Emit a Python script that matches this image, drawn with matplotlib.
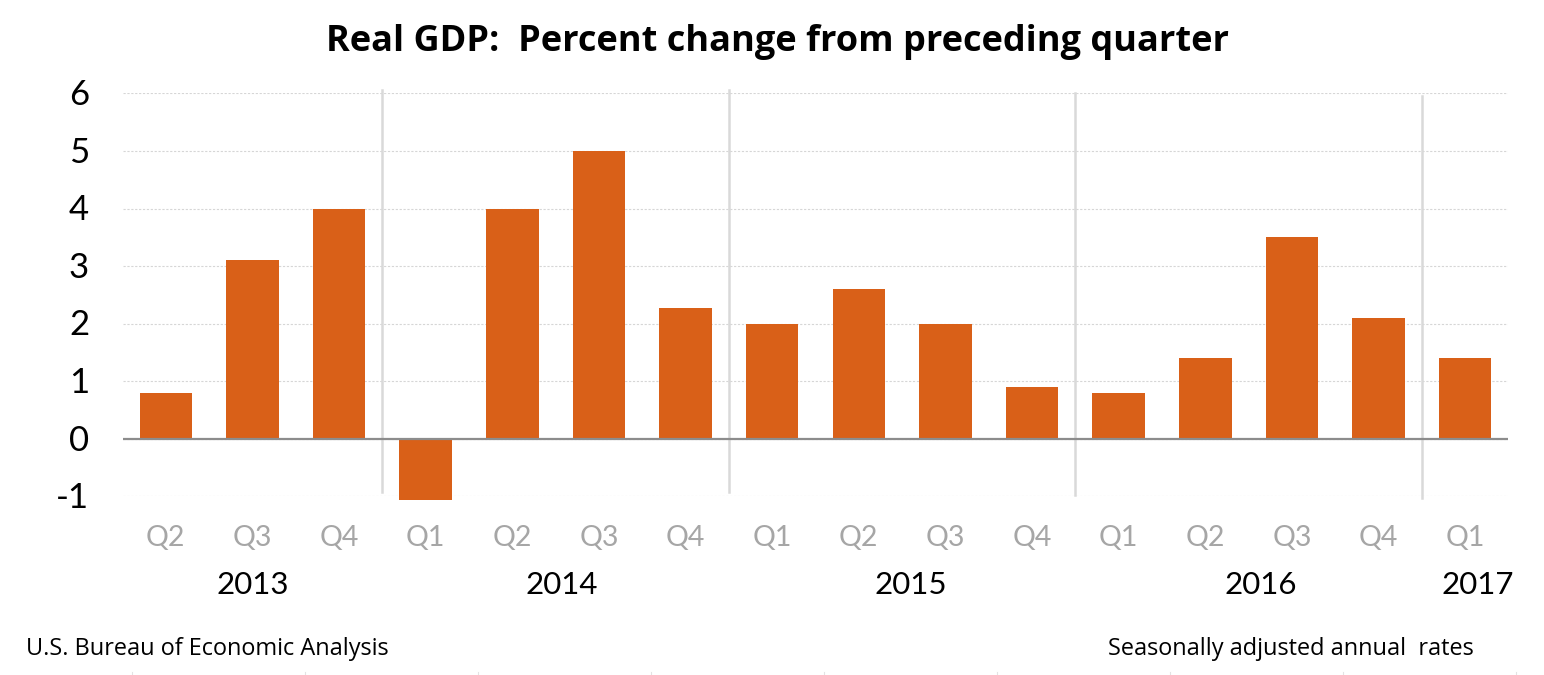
#!/usr/bin/env python3
import matplotlib
matplotlib.use("Agg")
import matplotlib.pyplot as plt
from matplotlib.transforms import ScaledTranslation
import numpy as np

W, H = 1544, 675

quarters = ["Q2", "Q3", "Q4", "Q1", "Q2", "Q3", "Q4", "Q1",
            "Q2", "Q3", "Q4", "Q1", "Q2", "Q3", "Q4", "Q1"]
gdp_change = [0.8, 3.1, 4.0, -1.07, 4.0, 5.0, 2.28, 1.99,
              2.6, 1.99, 0.9, 0.8, 1.4, 3.5, 2.1, 1.4]
y_ticks = [-1, 0, 1, 2, 3, 4, 5, 6]
years = ["2013", "2014", "2015", "2016", "2017"]
year_label_x = [1.0, 4.57, 8.6, 12.64, 15.15]  # in bar units
year_breaks = [2.5, 6.5, 10.5, 14.5]
break_spans = [(-0.93, 6.06), (-0.93, 6.06), (-0.97, 6.0), (-1.03, 5.95)]

BAR = "#D96018"
GRID = "#D6D6D6"
SEP = "#D9D9D9"
QGRAY = "#A6A6A6"
AXIS = "#8C8C8C"

fig = plt.figure(figsize=(W / 100, H / 100), dpi=100, facecolor="white")
ax = fig.add_axes([122.5 / W, 1 - 496.4 / H, (1508 - 122) / W, (496 - 93) / H])

x = np.arange(len(gdp_change))
ax.bar(x, gdp_change, width=0.605, color=BAR, zorder=3, clip_on=False)
ax.set_xlim(-0.5, len(gdp_change) - 0.5)
ax.set_ylim(-1, 6)

ax.set_yticks(y_ticks)
ax.set_yticklabels([str(v) for v in y_ticks], fontfamily="Lato", fontsize=25, color="black")
ax.set_xticks(x)
ax.set_xticklabels(quarters, fontfamily="Lato", fontsize=20.5, color=QGRAY)
ax.tick_params(axis="both", length=0)
ax.tick_params(axis="x", pad=20.5)
ax.tick_params(axis="y", pad=24)

# Lato digits sit a little low against the gridlines
nudge = ScaledTranslation(0, 1.2 / 100, fig.dpi_scale_trans)
for lab in ax.get_yticklabels():
    lab.set_transform(lab.get_transform() + nudge)

ax.grid(axis="y", color=GRID, linewidth=0.8, linestyle=(0, (2, 1.5)), zorder=0)
ax.axhline(0, color=AXIS, linewidth=1.6, zorder=4)
for side in ax.spines.values():
    side.set_visible(False)

# separators between calendar years
for pos, (lo, hi) in zip(year_breaks, break_spans):
    ax.plot([pos, pos], [lo, hi], color=SEP, linewidth=1.8, zorder=2, clip_on=False)

# year labels sit below the quarter labels
trans = ax.get_xaxis_transform()
for label, pos in zip(years, year_label_x):
    ax.annotate(label, xy=(pos, 0), xycoords=trans, xytext=(0, -63.5),
                textcoords="offset points", ha="center", va="center",
                fontfamily="Lato", fontsize=22.5, color="black")

fig.text(777 / W, 1 - 42 / H, "Real GDP:  Percent change from preceding quarter",
         ha="center", va="center", fontfamily="Open Sans", fontweight="bold",
         fontsize=26, color="black")
fig.text(26 / W, 1 - 649 / H, "U.S. Bureau of Economic Analysis",
         ha="left", va="center", fontfamily="Open Sans", fontsize=16.9, color="black")
fig.text(1108 / W, 1 - 649 / H, "Seasonally adjusted annual  rates",
         ha="left", va="center", fontfamily="Open Sans", fontsize=16.9, color="black")

# faint tick marks along the bottom edge
for px in range(132, 1517, 173):
    fig.add_artist(plt.Line2D([px / W, px / W], [0, 3 / H], color="#E3E3E3", linewidth=0.8))

fig.savefig("out.png", dpi=100)
